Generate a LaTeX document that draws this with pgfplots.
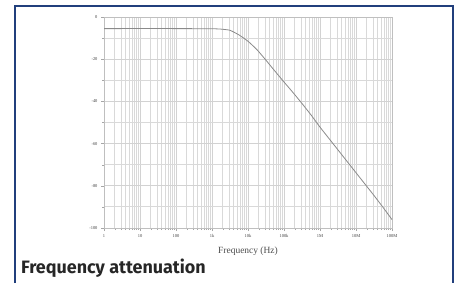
\documentclass[border=0pt]{standalone}
\usepackage{pgfplots}
\pgfplotsset{compat=1.18}
\usepackage{fontspec}
\setmainfont{Liberation Serif}
\newfontfamily\titlefont{Fira Sans}
\definecolor{frameblue}{HTML}{213F7C}
\definecolor{curvegray}{HTML}{8A8A8A}
\begin{document}
\begin{tikzpicture}[x=1bp,y=1bp]
\useasboundingbox (0,0) rectangle (459,283);
\draw[frameblue, line width=2bp] (15,0) -- (15,277) -- (453,277) -- (453,0);
\begin{axis}[
  at={(104bp,55bp)}, anchor=south west,
  scale only axis, width=288bp, height=211bp,
  xmode=log, xmin=1, xmax=1e8, ymin=-100, ymax=0,
  log basis x=10,
  xtick={1,10,100,1000,10000,100000,1000000,10000000,100000000},
  xticklabels={1,10,100,1k,10k,100k,1M,10M,100M},
  minor xtick={2,3,4,5,6,7,8,9,
    20,30,40,50,60,70,80,90,
    200,300,400,500,600,700,800,900,
    2000,3000,4000,5000,6000,7000,8000,9000,
    20000,30000,40000,50000,60000,70000,80000,90000,
    200000,300000,400000,500000,600000,700000,800000,900000,
    2000000,3000000,4000000,5000000,6000000,7000000,8000000,9000000,
    20000000,30000000,40000000,50000000,60000000,70000000,80000000,90000000},
  ytick={-100,-80,-60,-40,-20,0},
  minor ytick={-90,-70,-50,-30,-10},
  xtick pos=bottom, ytick pos=left,
  grid=both,
  major grid style={gray!35, line width=0.9bp},
  minor grid style={gray!30, line width=0.9bp},
  axis line style={gray!50, line width=0.5bp},
  tick align=outside,
  major tick length=3bp, minor tick length=2bp,
  tick style={gray!70, line width=0.4bp},
  tick label style={font=\fontsize{4.5}{5}\selectfont, text=black!75},
  /pgf/number format/assume math mode=true,
  xlabel={Frequency (Hz)},
  xlabel style={font=\fontsize{9.5}{10}\selectfont, text=black!70, yshift=-2bp},
]
\addplot[curvegray, line width=0.8bp, smooth, tension=0.3] coordinates {
(1,-5.5) (100,-5.5) (1000,-5.57) (1778,-5.74) (3162,-6.3) (5623,-8.5)
(10000,-11.5) (17783,-15.5) (31623,-20.5) (56234,-25.7) (100000,-30.8)
(177828,-35.8) (316228,-41) (562341,-46.4) (1000000,-52.2) (1778279,-57.6)
(3162278,-63) (5623413,-68.4) (10000000,-73.8) (17782794,-79.2)
(31622777,-84.6) (56234133,-90.2) (100000000,-96)
};
\end{axis}
\node[anchor=base west, inner sep=0pt, font=\titlefont\bfseries\fontsize{18}{21}\selectfont, text=black!85] at (21,10) {Frequency attenuation};
\end{tikzpicture}
\end{document}
